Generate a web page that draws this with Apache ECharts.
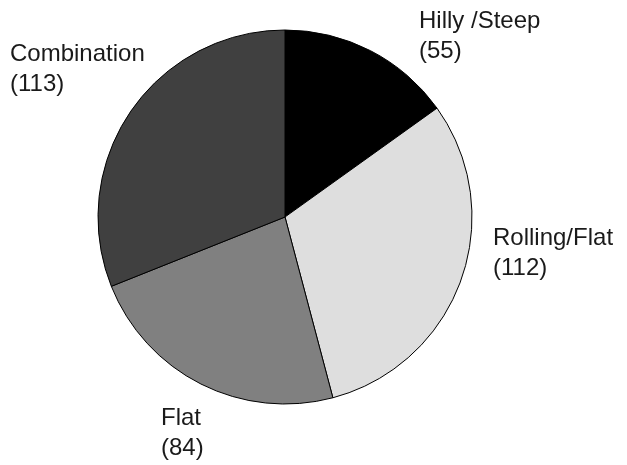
<!DOCTYPE html>
<html>
<head>
<meta charset="utf-8">
<script src="https://cdn.jsdelivr.net/npm/echarts@6/dist/echarts.min.js"></script>
<style>
  html, body { margin: 0; padding: 0; background: #ffffff; }
  #chart { width: 627px; height: 465px; }
</style>
</head>
<body>
<div id="chart"></div>
<script>
// Terrain type of the sites (counts)
const categories = ['Hilly /Steep', 'Rolling/Flat', 'Flat', 'Combination'];
const counts = [55, 112, 84, 113];
const sliceColors = ['#000000', '#dedede', '#808080', '#404040'];

// Label anchor points (top-left of each two-line label)
const labelAnchors = [
  [419, 6],
  [493, 223],
  [161, 403],
  [10, 39]
];

const chart = echarts.init(document.getElementById('chart'), null, { renderer: 'canvas' });

chart.setOption({
  backgroundColor: '#ffffff',
  animation: false,
  series: [{
    type: 'pie',
    center: [285, 217],
    radius: [0, 187],
    startAngle: 90,
    clockwise: true,
    avoidLabelOverlap: false,
    data: categories.map((name, i) => ({
      name: name,
      value: counts[i],
      itemStyle: { color: sliceColors[i] }
    })),
    itemStyle: { borderColor: '#000000', borderWidth: 1 },
    emphasis: { disabled: true },
    label: {
      show: true,
      position: 'outside',
      formatter: '{b}\n({c})',
      fontFamily: 'Liberation Sans, Arial, sans-serif',
      fontSize: 24,
      lineHeight: 30,
      color: '#1a1a1a',
      align: 'left'
    },
    labelLine: { show: false },
    labelLayout: function (params) {
      const p = labelAnchors[params.dataIndex];
      return { x: p[0], y: p[1], align: 'left', verticalAlign: 'top' };
    }
  }]
});
</script>
</body>
</html>
